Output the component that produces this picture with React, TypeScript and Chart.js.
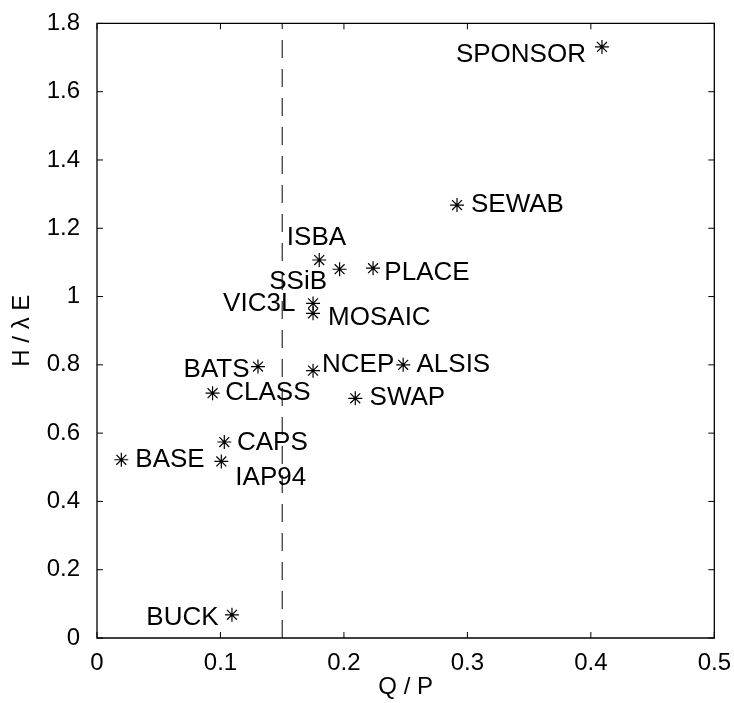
import React, { useEffect, useRef } from 'react';
import { Chart, registerables } from 'chart.js';

Chart.register(...registerables);

// ---- data ----
const models = ['SPONSOR', 'SEWAB', 'ISBA', 'SSiB', 'PLACE', 'VIC3L', 'MOSAIC', 'NCEP', 'ALSIS', 'BATS', 'CLASS', 'SWAP', 'CAPS', 'IAP94', 'BASE', 'BUCK'];
const qOverP = [0.409, 0.2916, 0.180, 0.1965, 0.2236, 0.175, 0.175, 0.175, 0.248, 0.1304, 0.0936, 0.2092, 0.1031, 0.1007, 0.0197, 0.1093];
const hOverLE = [1.731, 1.268, 1.107, 1.080, 1.083, 0.980, 0.951, 0.783, 0.800, 0.795, 0.717, 0.702, 0.574, 0.517, 0.522, 0.068];
const thresholdQP = 0.15;
const yRange = [0, 1.8];
const xTicks = [0, 0.1, 0.2, 0.3, 0.4, 0.5];
const xTickLabels = ['0', '0.1', '0.2', '0.3', '0.4', '0.5'];
const yTicks = [0, 0.2, 0.4, 0.6, 0.8, 1.0, 1.2, 1.4, 1.6, 1.8];
const yTickLabels = ['0', '0.2', '0.4', '0.6', '0.8', '1', '1.2', '1.4', '1.6', '1.8'];
const xTitle = 'Q / P';
const yTitle = 'H / \u03BB E';

// ---- label placement (styles, pixel offsets from the marker) ----
const labelAlign: CanvasTextAlign[] = ['right', 'left', 'center', 'right', 'left', 'right', 'left', 'left', 'left', 'right', 'left', 'left', 'left', 'left', 'left', 'right'];
const labelDx = [-16, 14, -2.8, -12.6, 11.3, -17.7, 15, 9, 13.3, -8.4, 12.7, 14.3, 12.7, 14, 14, -13.4];
const labelDy = [8, 0, -22.5, 12.4, 5, 0, 5, -5.7, 0, 3.3, 0, 0, 1, 16.7, 0, 3.3];

const FONT = "'Liberation Sans', Arial, Helvetica, sans-serif";

const framePlugin = {
  id: 'frameTicks',
  afterDatasetsDraw(chart: any) {
    const { ctx, chartArea } = chart;
    const xs = chart.scales.x;
    const ys = chart.scales.y;
    const L = chartArea.left, R = chartArea.right, T = chartArea.top, B = chartArea.bottom;
    const tl = 6;
    ctx.save();
    ctx.strokeStyle = '#000';
    ctx.lineWidth = 1.3;
    ctx.beginPath();
    ctx.rect(L, T, R - L, B - T);
    ctx.stroke();
    ctx.lineWidth = 1;
    ctx.beginPath();
    xTicks.forEach((v) => {
      const px = xs.getPixelForValue(v);
      ctx.moveTo(px, B); ctx.lineTo(px, B - tl);
      ctx.moveTo(px, T); ctx.lineTo(px, T + tl);
    });
    yTicks.forEach((v) => {
      const py = ys.getPixelForValue(v);
      ctx.moveTo(L, py); ctx.lineTo(L + tl, py);
      ctx.moveTo(R, py); ctx.lineTo(R - tl, py);
    });
    ctx.stroke();
    ctx.restore();
  },
};

const labelPlugin = {
  id: 'modelLabels',
  afterDatasetsDraw(chart: any) {
    const { ctx } = chart;
    const xs = chart.scales.x;
    const ys = chart.scales.y;
    ctx.save();
    ctx.fillStyle = '#000';
    ctx.font = `26px ${FONT}`;
    ctx.textBaseline = 'middle';
    models.forEach((name, i) => {
      const px = xs.getPixelForValue(qOverP[i]);
      const py = ys.getPixelForValue(hOverLE[i]);
      ctx.textAlign = labelAlign[i];
      ctx.fillText(name, px + labelDx[i], py + labelDy[i]);
    });
    ctx.restore();
  },
};

export default function App() {
  const ref = useRef<HTMLCanvasElement | null>(null);
  useEffect(() => {
    document.body.style.margin = '0';
    const canvas = ref.current;
    if (!canvas) return;
    const chart = new Chart(canvas, {
      type: 'scatter',
      data: {
        datasets: [
          {
            label: 'models',
            data: models.map((_, i) => ({ x: qOverP[i], y: hOverLE[i] })),
            pointStyle: 'star',
            pointRadius: 7,
            pointHoverRadius: 7,
            borderColor: '#000',
            backgroundColor: 'rgba(0,0,0,0)',
            borderWidth: 1.2,
            showLine: false,
          },
          {
            label: 'threshold',
            data: [{ x: thresholdQP, y: yRange[0] }, { x: thresholdQP, y: yRange[1] }],
            showLine: true,
            borderColor: '#000',
            borderWidth: 1,
            borderDash: [18, 11],
            pointRadius: 0,
            pointHoverRadius: 0,
          } as any,
        ],
      },
      options: {
        responsive: false,
        animation: false,
        events: [],
        layout: { padding: { top: 23, right: 13, left: 0, bottom: 0 } },
        plugins: { legend: { display: false }, tooltip: { enabled: false } },
        scales: {
          x: {
            type: 'linear',
            min: 0,
            max: 0.5,
            grid: { display: false },
            border: { display: false },
            afterBuildTicks: (s: any) => { s.ticks = xTicks.map((v) => ({ value: v })); },
            afterFit: (s: any) => { s.height = 65; },
            ticks: {
              color: '#000',
              font: { family: FONT, size: 24 },
              padding: 3,
              maxRotation: 0,
              autoSkip: false,
              callback: (_v: any, i: number) => xTickLabels[i],
            },
            title: {
              display: true,
              text: xTitle,
              color: '#000',
              font: { family: FONT, size: 24 },
              padding: { top: 0, bottom: 1 },
            },
          },
          y: {
            type: 'linear',
            min: yRange[0],
            max: yRange[1],
            grid: { display: false },
            border: { display: false },
            afterBuildTicks: (s: any) => { s.ticks = yTicks.map((v) => ({ value: v })); },
            afterFit: (s: any) => { s.width = 97; },
            ticks: {
              color: '#000',
              font: { family: FONT, size: 24 },
              padding: 9,
              autoSkip: false,
              callback: (_v: any, i: number) => yTickLabels[i],
            },
            title: {
              display: true,
              text: yTitle,
              color: '#000',
              font: { family: FONT, size: 24 },
              padding: { top: 8, bottom: 0 },
            },
          },
        },
      },
      plugins: [framePlugin, labelPlugin],
    });
    return () => chart.destroy();
  }, []);
  return (
    <div style={{ position: 'absolute', left: 0, top: 0, width: 734, height: 703, background: '#fff' }}>
      <canvas ref={ref} width={734} height={703} style={{ display: 'block' }} />
    </div>
  );
}
